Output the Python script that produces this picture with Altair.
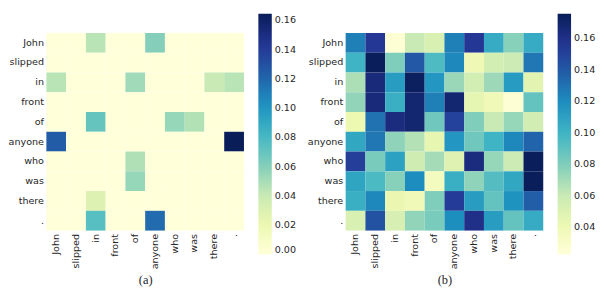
import altair as alt
import pandas as pd

tokens = ["John", "slipped", "in", "front", "of", "anyone", "who", "was", "there", "."]

left_values = [
    [0, 0, 0.045, 0, 0, 0.06, 0, 0, 0, 0],
    [0, 0, 0, 0, 0, 0, 0, 0, 0, 0],
    [0.045, 0, 0, 0, 0.052, 0, 0, 0, 0.04, 0.045],
    [0, 0, 0, 0, 0, 0, 0, 0, 0, 0],
    [0, 0, 0.07, 0, 0, 0, 0.055, 0.047, 0, 0],
    [0.125, 0, 0, 0, 0, 0, 0, 0, 0, 0.164],
    [0, 0, 0, 0, 0.048, 0, 0, 0, 0, 0],
    [0, 0, 0, 0, 0.055, 0, 0, 0, 0, 0],
    [0, 0, 0.03, 0, 0, 0, 0, 0, 0, 0],
    [0, 0, 0.075, 0, 0, 0.118, 0, 0, 0, 0],
]

right_values = [
    [0.125, 0.155, 0.025, 0.060, 0.052, 0.125, 0.155, 0.105, 0.078, 0.105],
    [0.100, 0.175, 0.080, 0.140, 0.095, 0.122, 0.040, 0.055, 0.058, 0.128],
    [0.068, 0.165, 0.112, 0.173, 0.115, 0.073, 0.055, 0.072, 0.113, 0.047],
    [0.075, 0.165, 0.103, 0.168, 0.125, 0.168, 0.046, 0.038, 0.025, 0.088],
    [0.042, 0.130, 0.163, 0.168, 0.085, 0.150, 0.080, 0.060, 0.074, 0.056],
    [0.107, 0.128, 0.076, 0.066, 0.045, 0.115, 0.085, 0.100, 0.122, 0.135],
    [0.152, 0.082, 0.110, 0.057, 0.070, 0.049, 0.163, 0.074, 0.058, 0.175],
    [0.108, 0.096, 0.078, 0.120, 0.035, 0.103, 0.076, 0.093, 0.107, 0.175],
    [0.103, 0.122, 0.043, 0.038, 0.080, 0.153, 0.112, 0.088, 0.117, 0.138],
    [0.052, 0.143, 0.053, 0.075, 0.082, 0.119, 0.160, 0.112, 0.088, 0.105],
]

left_ticks = [0.00, 0.02, 0.04, 0.06, 0.08, 0.10, 0.12, 0.14, 0.16]
right_ticks = [0.04, 0.06, 0.08, 0.10, 0.12, 0.14, 0.16]
left_extent = [0.0, 0.1645]
right_extent = [0.0228, 0.1755]
captions = ["(a)", "(b)"]

ylgnbu = ["#ffffd9", "#edf8b1", "#c7e9b4", "#7fcdbb", "#41b6c4",
          "#1d91c0", "#225ea8", "#253494", "#081d58"]


def to_frame(matrix):
    rows = []
    for i, r in enumerate(tokens):
        for j, c in enumerate(tokens):
            rows.append({"row": r, "col": c, "value": matrix[i][j]})
    return pd.DataFrame(rows)


def piecewise(extent):
    lo, hi = extent
    n = len(ylgnbu) - 1
    return [lo + (hi - lo) * k / n for k in range(n + 1)]


FONT = "DejaVu Sans"
TXT = "#262626"


def heat(matrix, extent, ticks, caption):
    return alt.Chart(to_frame(matrix)).mark_rect().encode(
        x=alt.X("col:N", sort=tokens,
                axis=alt.Axis(title=caption, labelAngle=-90, ticks=False, domain=False,
                              labelPadding=3, labelFont=FONT, labelFontSize=10,
                              labelColor=TXT, titleFont="Liberation Serif",
                              titleFontSize=13, titleFontWeight="normal",
                              titleColor=TXT, titlePadding=5)),
        y=alt.Y("row:N", sort=tokens,
                axis=alt.Axis(title=None, ticks=False, domain=False, labelPadding=3,
                              labelFont=FONT, labelFontSize=10, labelColor=TXT)),
        color=alt.Color("value:Q",
                        scale=alt.Scale(domain=piecewise(extent), range=ylgnbu,
                                        interpolate="rgb"),
                        legend=alt.Legend(title=None, orient="none", legendX=221,
                                          legendY=-20, direction="vertical",
                                          gradientLength=251, gradientThickness=14,
                                          gradientStrokeWidth=0, values=ticks,
                                          format=".2f", labelFont=FONT,
                                          labelFontSize=10, labelColor=TXT,
                                          labelBaseline="middle", labelOffset=3,
                                          padding=0, labelOverlap=False)),
    ).properties(width=206, height=206)


left = heat(left_values, left_extent, left_ticks, captions[0])
right = heat(right_values, right_extent, right_ticks, captions[1])

chart = alt.hconcat(left, right, spacing=11).resolve_scale(
    color="independent"
).resolve_legend(color="independent").properties(
    padding=0, background="white"
).configure_view(stroke=None)

chart.save("out.html", embed_options={"renderer": "svg", "actions": False})
